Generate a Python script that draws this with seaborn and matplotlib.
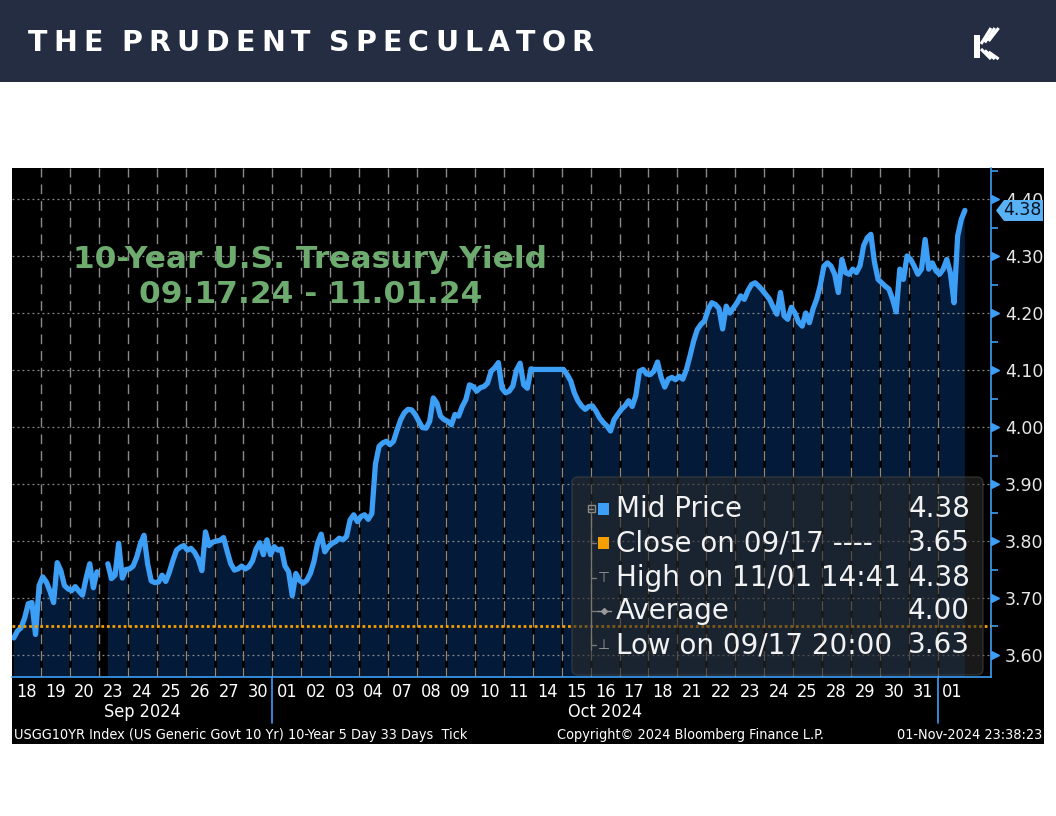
import numpy as np
import pandas as pd
import matplotlib
matplotlib.use("Agg")
import matplotlib.pyplot as plt
import matplotlib.transforms as mtransforms
import seaborn as sns
from matplotlib import font_manager
from matplotlib.patches import Rectangle, FancyBboxPatch
from matplotlib.path import Path
from matplotlib.ticker import MultipleLocator, FormatStrFormatter

# ---- data (8 ticks per trading session) ----
day_labels = ["18", "19", "20", "23", "24", "25", "26", "27", "30",
              "01", "02", "03", "04", "07", "08", "09", "10", "11", "14", "15", "16",
              "17", "18", "21", "22", "23", "24", "25", "28", "29", "30", "31", "01"]
month_labels = ["Sep 2024", "Oct 2024"]
month_start = [0, 9]
month_end = [9, 32]
ticks_per_day = 8
nan = np.nan
yields = [
    3.630, 3.642, 3.648, 3.665, 3.690, 3.692, 3.636, 3.722,   # Sep 18
    3.737, 3.728, 3.712, 3.692, 3.762, 3.748, 3.722, 3.716,   # Sep 19
    3.713, 3.720, 3.712, 3.705, 3.735, 3.760, 3.718, 3.746,   # Sep 20
    nan, nan, 3.760, 3.734, 3.740, 3.796, 3.735, 3.750,       # Sep 23
    3.751, 3.756, 3.772, 3.795, 3.810, 3.760, 3.730, 3.727,   # Sep 24
    3.728, 3.740, 3.729, 3.745, 3.766, 3.784, 3.789, 3.792,   # Sep 25
    3.784, 3.787, 3.780, 3.768, 3.748, 3.816, 3.792, 3.798,   # Sep 26
    3.800, 3.801, 3.806, 3.782, 3.760, 3.749, 3.751, 3.756,   # Sep 27
    3.751, 3.755, 3.765, 3.786, 3.797, 3.776, 3.802, 3.776,   # Sep 30
    3.790, 3.784, 3.786, 3.756, 3.746, 3.704, 3.743, 3.731,   # Oct 01
    3.726, 3.731, 3.743, 3.764, 3.796, 3.812, 3.781, 3.790,   # Oct 02
    3.796, 3.799, 3.805, 3.802, 3.808, 3.837, 3.846, 3.834,   # Oct 03
    3.843, 3.846, 3.838, 3.848, 3.935, 3.966, 3.972, 3.975,   # Oct 04
    3.969, 3.975, 3.995, 4.013, 4.025, 4.031, 4.030, 4.022,   # Oct 07
    4.010, 3.999, 3.998, 4.010, 4.051, 4.042, 4.019, 4.013,   # Oct 08
    4.010, 4.004, 4.022, 4.019, 4.036, 4.048, 4.074, 4.071,   # Oct 09
    4.063, 4.069, 4.071, 4.077, 4.098, 4.104, 4.113, 4.068,   # Oct 10
    4.060, 4.063, 4.072, 4.100, 4.112, 4.074, 4.068, 4.102,   # Oct 11
    4.101, 4.101, 4.101, 4.101, 4.101, 4.101, 4.101, 4.101,   # Oct 14
    4.101, 4.092, 4.081, 4.060, 4.046, 4.037, 4.031, 4.036,   # Oct 15
    4.037, 4.028, 4.016, 4.008, 4.002, 3.993, 4.013, 4.022,   # Oct 16
    4.031, 4.037, 4.046, 4.036, 4.055, 4.098, 4.101, 4.093,   # Oct 17
    4.092, 4.098, 4.114, 4.087, 4.070, 4.084, 4.087, 4.083,   # Oct 18
    4.089, 4.084, 4.101, 4.125, 4.151, 4.171, 4.180, 4.186,   # Oct 21
    4.206, 4.218, 4.215, 4.208, 4.172, 4.212, 4.200, 4.209,   # Oct 22
    4.218, 4.230, 4.224, 4.239, 4.250, 4.253, 4.247, 4.240,   # Oct 23
    4.232, 4.224, 4.210, 4.198, 4.236, 4.195, 4.189, 4.210,   # Oct 24
    4.200, 4.184, 4.177, 4.200, 4.183, 4.207, 4.224, 4.248,   # Oct 25
    4.282, 4.288, 4.282, 4.268, 4.236, 4.294, 4.271, 4.268,   # Oct 28
    4.277, 4.271, 4.283, 4.318, 4.332, 4.338, 4.289, 4.259,   # Oct 29
    4.253, 4.247, 4.242, 4.224, 4.202, 4.277, 4.259, 4.300,   # Oct 30
    4.294, 4.282, 4.268, 4.277, 4.329, 4.277, 4.288, 4.274,   # Oct 31
    4.268, 4.277, 4.294, 4.270, 4.218, 4.335, 4.364, 4.380,   # Nov 01
]
close_0917 = 3.65
last_price = 4.38
y_ticks = [3.60, 3.70, 3.80, 3.90, 4.00, 4.10, 4.20, 4.30, 4.40]
legend_names = ["Mid Price", "Close on 09/17 ----", "High on 11/01 14:41", "Average", "Low on 09/17 20:00"]
legend_values = ["4.38", "3.65", "4.38", "4.00", "3.63"]

BLUE = "#3d9ef5"
NAVY = "#031b38"
GREEN = "#6dab6f"

sns.set_theme(style="dark")
plt.rcParams["font.family"] = ["DejaVu Sans"]

# a condensed face for the Bloomberg date labels, if one is installed
narrow = None
for f in font_manager.fontManager.ttflist:
    if f.style == "normal" and f.weight in (400, "normal", "regular") and \
            (f.stretch in ("condensed", "semi-condensed") or "Narrow" in f.name or "Condensed" in f.name):
        narrow = font_manager.FontProperties(fname=f.fname)
        break
if narrow is not None:
    day_fp = narrow.copy(); day_fp.set_size(13)
    foot_fp = narrow.copy(); foot_fp.set_size(10.4)
    foot_left_fp = foot_fp
else:
    day_fp = font_manager.FontProperties(family="DejaVu Sans", size=12)
    foot_fp = font_manager.FontProperties(family="DejaVu Sans", size=10.5)
    foot_left_fp = font_manager.FontProperties(family="DejaVu Sans", size=9.5)

W, H = 1056, 816
fig = plt.figure(figsize=(W / 100, H / 100), dpi=100, facecolor="white")


def pixel_axes(z):
    a = fig.add_axes([0, 0, 1, 1], zorder=z)
    a.set_xlim(0, W)
    a.set_ylim(H, 0)
    a.axis("off")
    return a


bg = pixel_axes(0)
bg.add_patch(Rectangle((0, 0), W, 82, color="#252d42", lw=0))
bg.add_patch(Rectangle((12, 168), 1032, 576, color="black", lw=0))

# ---- main chart ----
ax = fig.add_axes([12 / W, 1 - 677 / H, (991 - 12) / W, (677 - 168) / H], zorder=1)
ax.set_facecolor("black")
n_days = len(day_labels)
y_lo, y_hi = 3.5614, 4.4544

df = pd.DataFrame({"t": np.arange(len(yields)) / ticks_per_day + 0.5 / ticks_per_day,
                   "yield": yields})
df["segment"] = df["yield"].isna().cumsum()

ax.fill_between(df["t"], df["yield"], y_lo, color=NAVY, lw=0, zorder=1)
for d in range(1, n_days):
    ax.axvline(d, color="black", lw=2, zorder=1.5)
    ax.axvline(d, color="#8a8a8a", lw=1, ls=(0, (7, 5)), zorder=2)
for v in y_ticks:
    ax.axhline(v, color="#8a8a8a", lw=0.9, ls=(0, (1.5, 2.5)), zorder=2)

sns.lineplot(data=df.dropna(), x="t", y="yield", units="segment", estimator=None,
             color=BLUE, lw=3.8, ax=ax, zorder=3, legend=False)
ax.axhline(close_0917, color="#f59f00", lw=2, ls=(0, (1, 1)), zorder=4)

ax.set_xlim(0, 33.84)
ax.set_ylim(y_lo, y_hi)
ax.set_xlabel("")
ax.set_ylabel("")
ax.grid(False)
ax.set_xticks(np.arange(n_days) + 0.5, day_labels)
ax.tick_params(axis="x", length=0, pad=4, labelcolor="white")
for lab in ax.get_xticklabels():
    lab.set_fontproperties(day_fp)

ax.yaxis.tick_right()
ax.set_yticks(y_ticks)
ax.yaxis.set_major_formatter(FormatStrFormatter("%.2f"))
ax.yaxis.set_minor_locator(MultipleLocator(0.05))
ax.tick_params(axis="y", which="major", length=0, pad=10, labelsize=12.5, labelcolor="#e8e8e8")
ax.tick_params(axis="y", which="minor", right=True, left=False, length=5, width=1.2, color=BLUE)
for side in ["top", "left"]:
    ax.spines[side].set_visible(False)
for side in ["right", "bottom"]:
    ax.spines[side].set_visible(True)
    ax.spines[side].set_color(BLUE)
    ax.spines[side].set_linewidth(1.2)

blend_y = mtransforms.blended_transform_factory(ax.transAxes, ax.transData)
tri_tr = blend_y + mtransforms.ScaledTranslation(4 / 100, 0, fig.dpi_scale_trans)
ax.plot(np.ones(len(y_ticks)), y_ticks, ls="none", marker=">", ms=6, color=BLUE,
        transform=tri_tr, clip_on=False, zorder=5)

# last price tag (covers most of the 4.40 label, as on the terminal)
tag = Path([(-23.5, 0), (-15.5, 10.5), (23.5, 10.5), (23.5, -10.5), (-15.5, -10.5), (-23.5, 0)],
           [Path.MOVETO] + [Path.LINETO] * 4 + [Path.CLOSEPOLY])
tag_tr = blend_y + mtransforms.ScaledTranslation(27.5 / 100, 0, fig.dpi_scale_trans)
ax.plot([1], [last_price], ls="none", marker=tag, ms=33.8, color="#59b2f5", mec="none",
        transform=tag_tr, clip_on=False, zorder=6)
ax.annotate(f"{last_price:.2f}", xy=(1, last_price), xycoords=blend_y, xytext=(31, 0),
            textcoords="offset pixels", ha="center", va="center", fontsize=12.5,
            color="#06121f", zorder=7, annotation_clip=False)

# month labels and separators
blend_x = mtransforms.blended_transform_factory(ax.transData, ax.transAxes)
for name, s, e in zip(month_labels, month_start, month_end):
    ax.plot([e, e], [0, -0.09], color=BLUE, lw=1.2, transform=blend_x, clip_on=False)
    ax.annotate(name, xy=((s + e) / 2, 0), xycoords=blend_x, xytext=(0, -35),
                textcoords="offset pixels", ha="center", va="center", color="white",
                fontproperties=day_fp, annotation_clip=False)

# ---- overlay: title, legend, footer, header ----
over = pixel_axes(3)
over.text(310, 268, "10-Year U.S. Treasury Yield", ha="center", va="baseline",
          fontsize=22.5, weight="bold", color=GREEN)
over.text(311, 303, "09.17.24 - 11.01.24", ha="center", va="baseline",
          fontsize=22.5, weight="bold", color=GREEN)

over.add_patch(FancyBboxPatch((572, 477), 411, 198, boxstyle="round,pad=0,rounding_size=6",
                              fc="#2b2b2b", alpha=0.6, ec="#444444", lw=1))
rows = [509, 543, 578, 611, 645]
for name, val, y in zip(legend_names, legend_values, rows):
    over.text(616, y, name, va="center", ha="left", fontsize=20, color="#f2f2f2")
    over.text(970, y, val, va="center", ha="right", fontsize=20, color="#f2f2f2")
over.add_patch(Rectangle((598, 503), 11, 12, color=BLUE, lw=0))
over.add_patch(Rectangle((598, 537), 11, 12, color="#f59f00", lw=0))
over.text(604, rows[2], "\u22a4", ha="center", va="center", fontsize=10, color="#9a9a9a")
over.plot([597, 611], [rows[3], rows[3]], color="#9a9a9a", lw=1)
over.plot([604], [rows[3]], marker="D", ms=3, color="#9a9a9a")
over.text(604, rows[4], "\u22a5", ha="center", va="center", fontsize=10, color="#9a9a9a")
over.plot([591, 591], [512, 650], color="#777777", lw=1)
for y in rows[1:]:
    over.plot([591, 596], [y, y], color="#777777", lw=1)
over.add_patch(Rectangle((587.5, 505), 7, 7, fill=False, ec="#8a8a8a", lw=1))
over.plot([589, 593], [508.5, 508.5], color="#8a8a8a", lw=1)

over.text(14, 735, "USGG10YR Index (US Generic Govt 10 Yr) 10-Year 5 Day 33 Days  Tick",
          va="center", ha="left", color="white", fontproperties=foot_left_fp)
over.text(557, 735, "Copyright\u00a9 2024 Bloomberg Finance L.P.",
          va="center", ha="left", color="white", fontproperties=foot_fp)
over.text(1042, 735, "01-Nov-2024 23:38:23",
          va="center", ha="right", color="white", fontproperties=foot_fp)

# header with letter spacing
renderer = fig.canvas.get_renderer()
x = 28
for ch in "THE PRUDENT SPECULATOR":
    if ch == " ":
        x += 13
        continue
    t = over.text(x, 51, ch, ha="left", va="baseline", fontsize=20.5, weight="bold", color="white")
    x += t.get_window_extent(renderer).width + 6.0

# logo
over.add_patch(Rectangle((974, 35), 5.5, 23, color="white", lw=0))
for k in range(3):
    over.plot([981 + 3.8 * k, 991 + 3.8 * k], [44 - 1.5 * k, 28], color="white", lw=2.2,
              solid_capstyle="butt")
    over.plot([981 + 3.8 * k, 991 + 3.8 * k], [49 + 1.5 * k, 59], color="white", lw=2.2,
              solid_capstyle="butt")

fig.savefig("out.png", dpi=100, facecolor="white")
